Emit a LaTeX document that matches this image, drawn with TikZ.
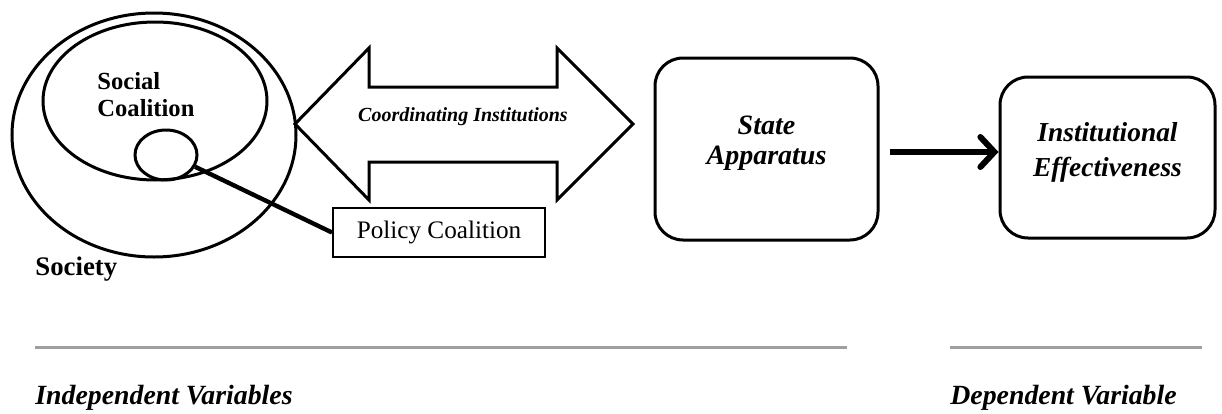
\documentclass[tikz,border=0pt]{standalone}
\usepackage{fontspec}
\setmainfont{Liberation Serif}
\usetikzlibrary{shapes.geometric,arrows.meta}

\begin{document}
\begin{tikzpicture}[x=0.5pt,y=-0.5pt]
    \tikzstyle{ring}=[ellipse,draw,line width=1.5pt,inner sep=0]
    \tikzstyle{round box}=[rectangle,draw,rounded corners=14pt,line width=1.5pt]
    \tikzstyle{plain box}=[rectangle,draw,line width=1pt,inner sep=0]
    \tikzstyle{box text}=[align=center,font=\bfseries\itshape]
    \tikzstyle{free text}=[anchor=west,inner sep=0]
    \tikzstyle{rule}=[line width=1.5pt,gray!75]

    \useasboundingbox (0,0) rectangle (1222,413);

    % society and its coalitions
    \node(society)[ring,minimum width=142pt,minimum height=122pt] at (154,135) {};
    \node(social)[ring,minimum width=112pt,minimum height=79pt] at (155,101) {};
    \node(core)[ring,minimum width=31pt,minimum height=25pt] at (166,155) {};
    \node(social text)[free text,align=left,font=\fontsize{12.3}{13.5}\selectfont\bfseries] at (97,95) {Social\\Coalition};
    \node(society text)[free text,font=\fontsize{13.4}{15}\selectfont\bfseries] at (35,269) {Society};

    \node(policy)[plain box,minimum width=106pt,minimum height=24.5pt,font=\fontsize{12.6}{14}\selectfont] at (439,232.5) {Policy Coalition};
    \draw[line width=2.2pt] (core.-22) -- (policy.west);

    % coordinating institutions
    \draw[line width=1.5pt] (295,124) -- (369,48) -- (369,87) -- (557,87) -- (557,48) -- (633,124)
        -- (557,200) -- (557,162) -- (369,162) -- (369,200) -- cycle;
    \node(coord)[font=\fontsize{10}{12}\selectfont\bfseries\itshape] at (463,117) {Coordinating Institutions};

    % state and outcome
    \node(state)[round box,minimum width=111.5pt,minimum height=91pt,
        label={[box text,yshift=3pt,font=\fontsize{14}{15}\selectfont\bfseries\itshape]center:{State\\Apparatus}}] at (766.5,149) {};
    \node(inst)[round box,minimum width=107.5pt,minimum height=80.5pt,
        label={[box text,yshift=2.75pt,font=\fontsize{13.7}{17.5}\selectfont\bfseries\itshape]center:{Institutional\\Effectiveness}}] at (1107.5,157.5) {};
    \draw[line width=3pt,-{Straight Barb[length=7pt,width=15pt,line cap=round]}]
        ([xshift=5pt,yshift=-1.5pt]state.east) -- ([yshift=-1.5pt]state.east -| inst.west);

    % variables
    \draw[rule] (35,347) -- (847,347);
    \draw[rule] (950,347) -- (1202,347);
    \node(indep)[free text,font=\fontsize{13.9}{15}\selectfont\bfseries\itshape] at (35,398) {Independent Variables};
    \node(dep)[free text,font=\fontsize{13.9}{15}\selectfont\bfseries\itshape] at (950,398) {Dependent Variable};
\end{tikzpicture}
\end{document}
